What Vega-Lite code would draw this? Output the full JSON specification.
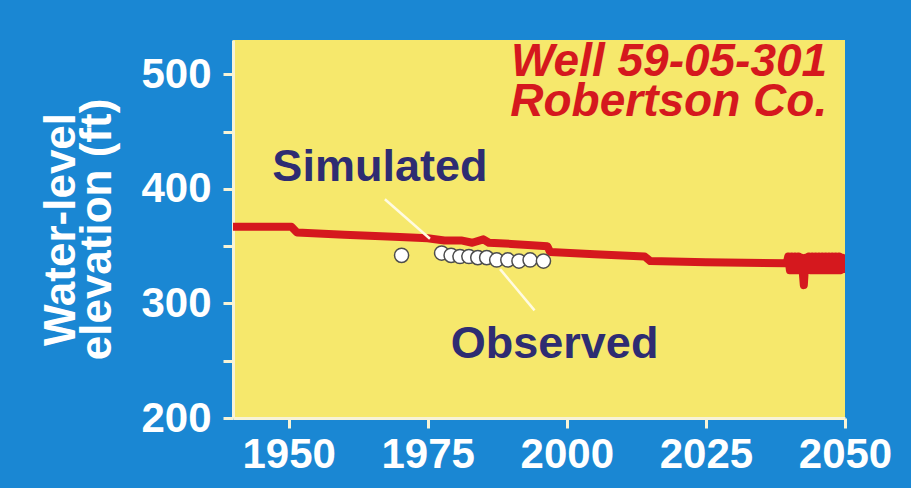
{
  "$schema": "https://vega.github.io/schema/vega-lite/v6.json",
  "width": 612,
  "height": 378,
  "autosize": {"type": "none"},
  "padding": {"left": 233, "top": 40, "right": 66, "bottom": 70},
  "background": "#1a87d3",
  "config": {
    "view": {"fill": "#f6e86c", "stroke": null},
    "axis": {
      "grid": false,
      "labelFont": "Liberation Sans",
      "labelFontWeight": "bold",
      "labelFontSize": 42,
      "labelColor": "#ffffff",
      "tickColor": "#f7f3d6",
      "tickWidth": 3,
      "tickSize": 10,
      "domainColor": "#f7f3d6",
      "domainWidth": 3,
      "titleFont": "Liberation Sans",
      "titleFontWeight": "bold",
      "titleColor": "#ffffff"
    }
  },
  "datasets": {
    "sim": [
      {"year": 1940, "level": 367},
      {"year": 1950.5, "level": 367},
      {"year": 1951.5, "level": 362},
      {"year": 1960, "level": 360},
      {"year": 1970, "level": 358},
      {"year": 1975, "level": 357},
      {"year": 1978, "level": 355},
      {"year": 1981, "level": 355},
      {"year": 1983, "level": 353},
      {"year": 1985, "level": 356},
      {"year": 1986, "level": 353},
      {"year": 1990, "level": 352},
      {"year": 1993, "level": 351},
      {"year": 1996.5, "level": 350},
      {"year": 1997, "level": 345},
      {"year": 2005, "level": 343},
      {"year": 2014, "level": 341},
      {"year": 2015, "level": 337},
      {"year": 2025, "level": 336},
      {"year": 2039.5, "level": 335},
      {"year": 2039.8, "level": 341},
      {"year": 2040.1, "level": 329},
      {"year": 2040.4, "level": 341},
      {"year": 2040.7, "level": 329},
      {"year": 2041.0, "level": 341},
      {"year": 2041.3, "level": 329},
      {"year": 2041.6, "level": 341},
      {"year": 2041.9, "level": 329},
      {"year": 2042.2, "level": 340},
      {"year": 2042.6, "level": 316},
      {"year": 2042.9, "level": 340},
      {"year": 2043.2, "level": 329},
      {"year": 2043.5, "level": 341},
      {"year": 2043.8, "level": 329},
      {"year": 2044.1, "level": 341},
      {"year": 2044.4, "level": 329},
      {"year": 2044.7, "level": 341},
      {"year": 2045.0, "level": 329},
      {"year": 2045.3, "level": 341},
      {"year": 2045.6, "level": 329},
      {"year": 2045.9, "level": 341},
      {"year": 2046.2, "level": 329},
      {"year": 2046.5, "level": 341},
      {"year": 2046.8, "level": 329},
      {"year": 2047.1, "level": 341},
      {"year": 2047.4, "level": 329},
      {"year": 2047.7, "level": 341},
      {"year": 2048.0, "level": 329},
      {"year": 2048.3, "level": 341},
      {"year": 2048.6, "level": 329},
      {"year": 2048.9, "level": 341},
      {"year": 2049.2, "level": 329},
      {"year": 2049.5, "level": 340},
      {"year": 2049.8, "level": 330},
      {"year": 2050, "level": 335}
    ],
    "obs": [
      {"year": 1970.3, "level": 342},
      {"year": 1977.5, "level": 344},
      {"year": 1979.2, "level": 342},
      {"year": 1980.8, "level": 341},
      {"year": 1982.4, "level": 341},
      {"year": 1984.0, "level": 340},
      {"year": 1985.6, "level": 340},
      {"year": 1987.4, "level": 338},
      {"year": 1989.4, "level": 338},
      {"year": 1991.4, "level": 337},
      {"year": 1993.4, "level": 338},
      {"year": 1995.8, "level": 337}
    ],
    "leaders": [
      {"x1": 1967.3, "y1": 391, "x2": 1975.4, "y2": 356.5},
      {"x1": 1988, "y1": 330, "x2": 1994.2, "y2": 294}
    ],
    "labels": [
      {"text": "Simulated", "year": 1966.4, "level": 419},
      {"text": "Observed", "year": 1997.8, "level": 265}
    ],
    "titles": [
      {"text": "Well 59-05-301\nRobertson Co.", "year": 2046.8, "level": 510.8}
    ]
  },
  "layer": [
    {
      "data": {"name": "sim"},
      "mark": {"type": "line", "color": "#d5181e", "strokeWidth": 8, "strokeJoin": "round", "clip": true},
      "encoding": {
        "x": {
          "field": "year", "type": "quantitative",
          "scale": {"domain": [1940, 2050], "nice": false, "zero": false},
          "axis": {"values": [1950, 1975, 2000, 2025, 2050], "format": "d", "title": null, "labelPadding": 6, "labelFlush": false}
        },
        "y": {
          "field": "level", "type": "quantitative",
          "scale": {"domain": [200, 530], "nice": false, "zero": false},
          "axis": {
            "values": [200, 250, 300, 350, 400, 450, 500],
            "labelExpr": "datum.value % 100 === 0 ? datum.label : ''",
            "labelPadding": 12,
            "labelFlush": false,
            "title": ["Water-level", "elevation (ft)"],
            "titleFontSize": 44,
            "titleLineHeight": 36,
            "titleAngle": -90,
            "titleAlign": "center",
            "titleBaseline": "top",
            "titleX": -194,
            "titleY": 189
          }
        }
      }
    },
    {
      "data": {"name": "leaders"},
      "mark": {"type": "rule", "color": "#fffbe0", "strokeWidth": 2.5},
      "encoding": {
        "x": {"field": "x1", "type": "quantitative"},
        "y": {"field": "y1", "type": "quantitative"},
        "x2": {"field": "x2"},
        "y2": {"field": "y2"}
      }
    },
    {
      "data": {"name": "obs"},
      "mark": {"type": "point", "shape": "circle", "filled": true, "fill": "#ffffff", "stroke": "#4d4d4d", "strokeWidth": 1.5, "size": 200, "opacity": 1},
      "encoding": {
        "x": {"field": "year", "type": "quantitative"},
        "y": {"field": "level", "type": "quantitative"}
      }
    },
    {
      "data": {"name": "labels"},
      "mark": {"type": "text", "font": "Liberation Sans", "fontWeight": "bold", "fontSize": 45, "color": "#2e2c72", "align": "center", "baseline": "middle"},
      "encoding": {
        "x": {"field": "year", "type": "quantitative"},
        "y": {"field": "level", "type": "quantitative"},
        "text": {"field": "text"}
      }
    },
    {
      "data": {"name": "titles"},
      "mark": {"type": "text", "font": "Liberation Sans", "fontWeight": "bold", "fontStyle": "italic", "fontSize": 46, "lineHeight": 40, "lineBreak": "\n", "color": "#d5181e", "align": "right", "baseline": "middle"},
      "encoding": {
        "x": {"field": "year", "type": "quantitative"},
        "y": {"field": "level", "type": "quantitative"},
        "text": {"field": "text"}
      }
    }
  ]
}
